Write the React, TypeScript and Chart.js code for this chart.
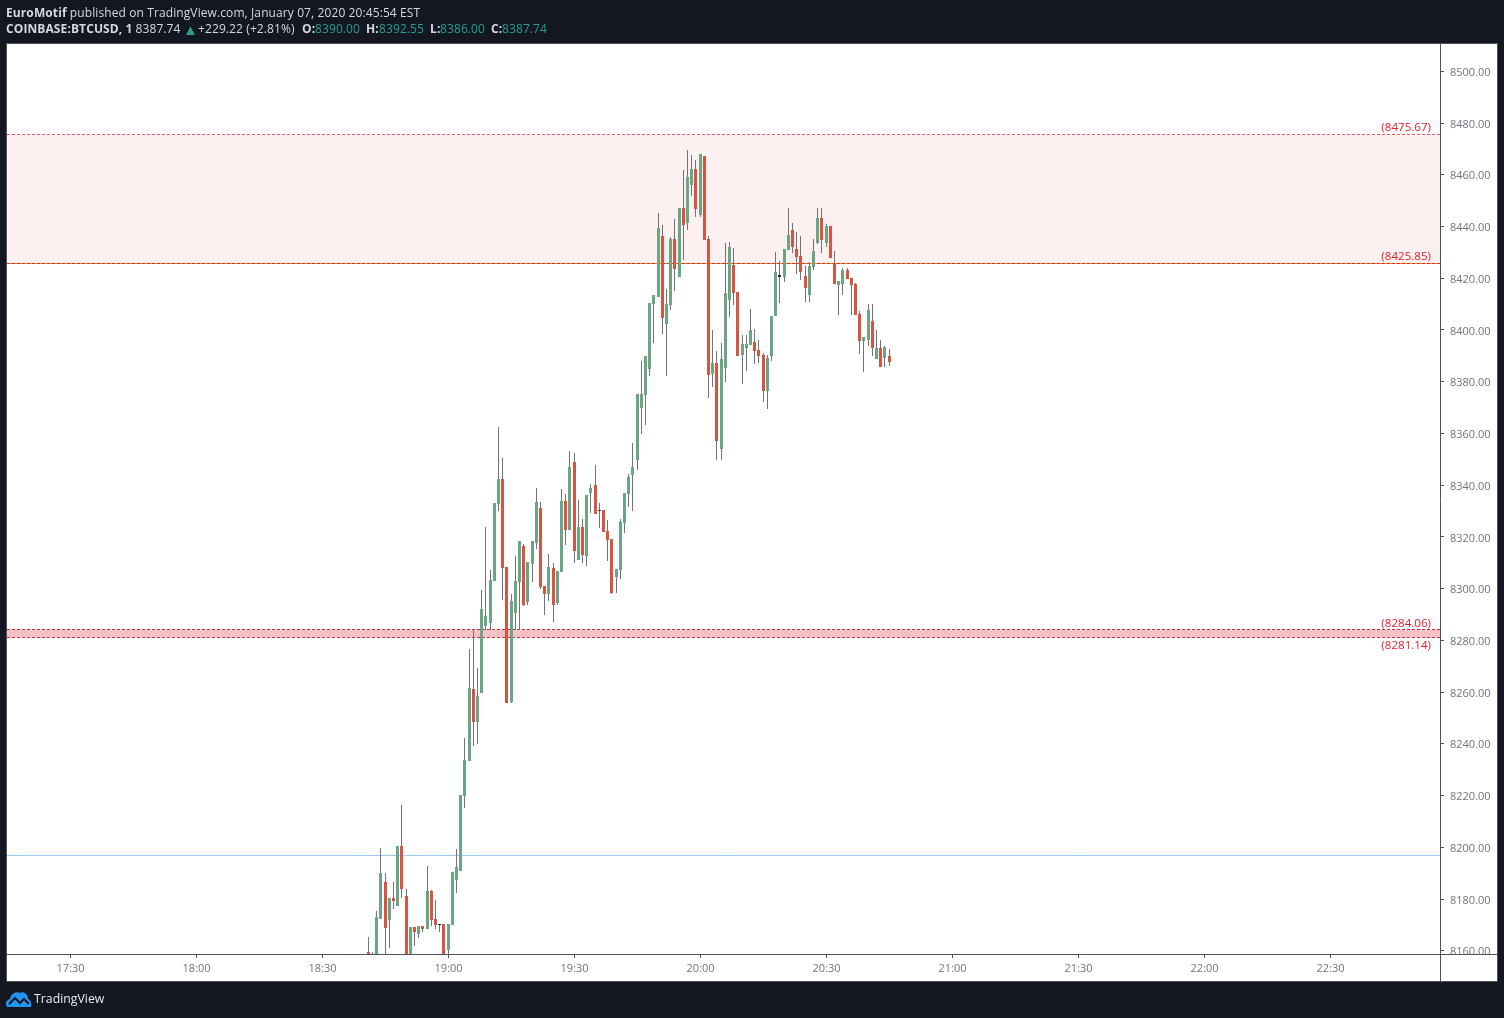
import React, { useEffect, useRef } from "react";
import { Chart, registerables } from "chart.js";

Chart.register(...registerables);

// minutes relative to 19:00 of the first candle; one candle per minute
const firstMinute = -19;

const opens = [
  8159.5, 8150, 8150, 8172.3, 8186.6, 8171.9, 8180.4, 8177.3, 8200.5, 8181.2,
  8152, 8169.2, 8166.5, 8169.6, 8168.4, 8183.1, 8172.3, 8170.4, 8170.3, 8160.3,
  8170.0, 8187.4, 8190.8, 8219.8, 8233.4, 8261.2, 8248.4, 8259.6, 8285.5, 8286.7,
  8302.9, 8332.7, 8342.4, 8308.4, 8256.2, 8290.6, 8302.6, 8316.5, 8294.8, 8309.5,
  8317.6, 8331.2, 8301.0, 8297.9, 8308.0, 8294.4, 8306.4, 8333.9, 8322.7, 8348.9,
  8311.1, 8323.8, 8312.6, 8337.0, 8340.1, 8330.0, 8330.4, 8322.3, 8319.2, 8304.5,
  8307.2, 8325.4, 8336.6, 8343.9, 8349.7, 8369.8, 8374.8, 8384.9, 8410.0, 8412.7,
  8436.3, 8402.3, 8409.6, 8435.2, 8420.5, 8447.1, 8441.3, 8456.0, 8462.2, 8444.4,
  8467.2, 8435.2, 8383.0, 8387.2, 8354.0, 8385.3, 8411.6, 8425.1, 8414.7, 8390.3,
  8393.0, 8394.2, 8395.3, 8392.2, 8390.3, 8376.4, 8389.9, 8405.4, 8421.3, 8420.5,
  8430.9, 8438.6, 8431.3, 8428.6, 8420.9, 8413.5, 8424.3, 8433.6, 8443.3, 8433.6,
  8440.2, 8425.9, 8417.4, 8417.8, 8423.2, 8420.1, 8417.8, 8406.2, 8395.7, 8396.1,
  8403.5, 8388.8, 8393.0, 8389.2, 8390.0,
];
const highs = [
  8165.3, 8159.5, 8175.4, 8199.7, 8190.1, 8180.4, 8186.6, 8200.5, 8216.4, 8183.9,
  8169.2, 8169.2, 8169.6, 8169.6, 8192.8, 8183.5, 8179.6, 8170.4, 8170.3, 8170.3,
  8190.4, 8199.3, 8220.2, 8242.3, 8276.7, 8284.4, 8269.3, 8299.5, 8323.8, 8307.2,
  8333.1, 8362.5, 8350.5, 8308.4, 8297.9, 8312.6, 8318.4, 8317.3, 8310.3, 8318.4,
  8338.9, 8333.5, 8301.0, 8313.4, 8309.9, 8306.8, 8338.5, 8336.6, 8353.2, 8352.4,
  8334.3, 8326.9, 8336.2, 8340.4, 8347.8, 8333.1, 8330.4, 8326.5, 8319.2, 8307.6,
  8326.9, 8337.0, 8344.3, 8356.3, 8375.2, 8388.0, 8389.9, 8410.4, 8413.5, 8445.2,
  8440.6, 8415.8, 8435.9, 8442.9, 8447.1, 8461.8, 8469.6, 8467.6, 8465.7, 8468.0,
  8467.2, 8436.3, 8400.0, 8391.9, 8395.0, 8433.6, 8434.0, 8431.7, 8414.7, 8398.0,
  8398.0, 8408.1, 8400.4, 8396.1, 8391.1, 8390.3, 8405.4, 8430.1, 8426.7, 8431.3,
  8447.1, 8441.3, 8437.9, 8436.3, 8424.7, 8426.3, 8435.2, 8447.1, 8447.1, 8441.0,
  8440.2, 8430.5, 8418.9, 8424.0, 8424.0, 8420.1, 8418.2, 8407.3, 8397.3, 8410.0,
  8410.0, 8400.0, 8396.1, 8393.8, 8392.55,
];
const lows = [
  8152, 8148, 8148, 8172.3, 8155, 8161.0, 8176.1, 8177.3, 8180.4, 8148,
  8150, 8161.8, 8164.9, 8167.2, 8168.4, 8169.6, 8168.4, 8167.2, 8150, 8157,
  8170.0, 8182.3, 8190.8, 8215.2, 8233.4, 8239.2, 8239.9, 8259.6, 8284.0, 8284.0,
  8302.9, 8330.0, 8295.6, 8255.8, 8255.8, 8284.0, 8284.0, 8293.3, 8293.7, 8302.6,
  8315.3, 8299.9, 8289.8, 8295.2, 8287.1, 8293.7, 8306.4, 8316.9, 8322.7, 8309.9,
  8311.1, 8309.9, 8308.7, 8329.2, 8328.8, 8323.4, 8321.9, 8310.7, 8297.9, 8298.3,
  8303.7, 8321.5, 8331.6, 8330.0, 8345.9, 8359.8, 8363.3, 8382.2, 8395.0, 8412.7,
  8398.4, 8382.2, 8407.7, 8415.1, 8420.5, 8427.0, 8438.6, 8451.8, 8443.7, 8443.7,
  8434.8, 8373.7, 8377.9, 8349.7, 8349.7, 8379.9, 8405.0, 8409.6, 8389.9, 8379.1,
  8384.1, 8394.2, 8386.8, 8387.2, 8372.1, 8369.4, 8388.0, 8405.4, 8410.4, 8418.5,
  8430.9, 8429.7, 8421.6, 8419.3, 8410.8, 8410.8, 8423.2, 8433.2, 8429.7, 8432.1,
  8427.8, 8417.8, 8405.8, 8413.5, 8419.7, 8405.8, 8405.8, 8390.7, 8383.7, 8393.8,
  8389.9, 8388.8, 8385.7, 8385.7, 8386.0,
];
const closes = [
  8155, 8155, 8173.1, 8190.1, 8168.8, 8180.4, 8179.2, 8200.5, 8183.9, 8150,
  8169.2, 8167.2, 8169.6, 8168.4, 8183.1, 8171.9, 8170.0, 8170.2, 8150, 8170.3,
  8190.4, 8192.4, 8220.2, 8233.7, 8261.6, 8248.4, 8258.5, 8292.1, 8289.4, 8303.3,
  8333.1, 8342.4, 8308.0, 8255.8, 8295.2, 8302.9, 8318.4, 8293.7, 8310.3, 8318.4,
  8333.5, 8300.6, 8297.9, 8308.4, 8293.7, 8306.8, 8333.9, 8322.7, 8347.0, 8314.5,
  8323.8, 8313.0, 8336.2, 8338.9, 8328.8, 8330.4, 8321.9, 8318.8, 8298.3, 8307.6,
  8325.8, 8337.0, 8343.2, 8347.0, 8375.2, 8375.2, 8389.9, 8410.4, 8413.5, 8439.4,
  8404.6, 8410.0, 8435.2, 8423.6, 8447.1, 8440.6, 8459.1, 8462.2, 8446.7, 8468.0,
  8434.8, 8382.6, 8387.2, 8357.1, 8388.8, 8414.3, 8432.1, 8414.3, 8389.9, 8394.6,
  8394.6, 8400.0, 8391.9, 8389.9, 8376.4, 8389.2, 8405.4, 8422.4, 8420.5, 8431.3,
  8436.7, 8432.1, 8428.2, 8422.4, 8416.2, 8424.7, 8430.5, 8443.3, 8434.8, 8440.2,
  8427.8, 8417.8, 8418.9, 8423.2, 8419.7, 8417.4, 8405.8, 8395.7, 8397.3, 8407.7,
  8393.0, 8393.0, 8385.7, 8393.4, 8387.74,
];

const yTickValues = [
  8160, 8180, 8200, 8220, 8240, 8260, 8280, 8300, 8320, 8340, 8360, 8380, 8400,
  8420, 8440, 8460, 8480, 8500,
];
const xTickValues = [-90, -60, -30, 0, 30, 60, 90, 120, 150, 180, 210];
const xTickLabels = ["17:30", "18:00", "18:30", "19:00", "19:30", "20:00", "20:30", "21:00", "21:30", "22:00", "22:30"];

const priceLevels = [8475.67, 8425.85, 8284.06, 8281.14];
const levelLabels = ["(8475.67)", "(8425.85)", "(8284.06)", "(8281.14)"];
const horizontalLevel = 8196.9;

const xMin = -105.02;
const xMax = 236.17;
const yMin = 8158.75;
const yMax = 8510.55;

const GREEN = "#6ba583";
const RED = "#d75442";
const WICK = "#737375";
const AXIS = "#50535e";
const TICK_TEXT = "#6f737b";
const FONT = "'Open Sans', sans-serif";

const minutes = opens.map((_, i) => firstMinute + i);
const span = (y: number) => [
  { x: xMin, y },
  { x: xMax, y },
];

const snapMarks = {
  id: "snapMarks",
  afterDatasetsUpdate(chart: any) {
    chart.data.datasets.forEach((ds: any, i: number) => {
      const meta = chart.getDatasetMeta(i);
      if (ds.type === "line") {
        meta.data.forEach((pt: any) => {
          pt.y = Math.floor(pt.y) + 0.5;
        });
        return;
      }
      meta.data.forEach((el: any) => {
        el.x = Math.floor(el.x) + 0.5;
        el.y = Math.round(el.y);
        el.base = Math.round(el.base);
        if (el.y === el.base) el.base += 1;
      });
    });
  },
};

const overlay = {
  id: "overlay",
  afterDraw(chart: any) {
    const { ctx, chartArea, scales } = chart;
    const right = chart.width - 7;
    const bottom = chart.height - 37;
    ctx.save();
    // the price-scale labels are cut off by the time scale
    ctx.fillStyle = "#ffffff";
    ctx.fillRect(chartArea.right + 1, chartArea.bottom, right - chartArea.right - 1, bottom - chartArea.bottom);
    ctx.fillStyle = AXIS;
    ctx.fillRect(chartArea.right, chartArea.bottom, right - chartArea.right, 1);
    ctx.fillRect(chartArea.right, chartArea.bottom, 1, bottom - chartArea.bottom);
    // level labels
    ctx.font = `11.6px ${FONT}`;
    ctx.fillStyle = "#e0202f";
    ctx.textAlign = "right";
    ctx.textBaseline = "middle";
    levelLabels.forEach((text, i) => {
      const offset = i === 3 ? 9 : -6;
      ctx.fillText(text, chartArea.right - 9, Math.round(scales.y.getPixelForValue(priceLevels[i])) + offset);
    });
    ctx.restore();
  },
};

const lineTwoBold = [
  { left: 6, text: "COINBASE:BTCUSD, 1" },
  { left: 302, text: "O:" },
  { left: 366, text: "H:" },
  { left: 430, text: "L:" },
  { left: 491, text: "C:" },
];
const lineTwoPlain = [
  { left: 135.5, text: "8387.74" },
  { left: 198, text: "+229.22 (+2.81%)" },
];
const lineTwoTeal = [
  { left: 315, text: "8390.00" },
  { left: 379, text: "8392.55" },
  { left: 440, text: "8386.00" },
  { left: 502, text: "8387.74" },
];

export default function App() {
  const ref = useRef<HTMLCanvasElement>(null);

  useEffect(() => {
    const lineBase = { type: "line", pointRadius: 0, borderWidth: 1, order: 5, fill: false };
    const candleColors = opens.map((o, i) => {
      const c = closes[i];
      if (Math.abs(o - c) < 1) return c > o ? "#1f4a2d" : "#4d1a12";
      return c >= o ? GREEN : RED;
    });
    const chart = new Chart(ref.current as HTMLCanvasElement, {
      type: "bar",
      data: {
        datasets: [
          {
            ...lineBase,
            label: "zone high",
            data: span(priceLevels[0]),
            borderWidth: 0,
            fill: { target: { value: priceLevels[1] }, above: "#fcf0f0", below: "#fcf0f0" },
            order: 9,
          },
          {
            ...lineBase,
            label: "zone low",
            data: span(priceLevels[2]),
            borderWidth: 0,
            fill: { target: { value: priceLevels[3] }, above: "#f6c1c4", below: "#f6c1c4" },
            order: 9,
          },
          { ...lineBase, label: "horizontal", data: span(horizontalLevel), borderColor: "#9ccbf0", order: 8 },
          { ...lineBase, label: "l1", data: span(priceLevels[0]), borderColor: "#ea5a5f", borderDash: [3, 2] },
          { ...lineBase, label: "l2 base", data: span(priceLevels[1]), borderColor: "#f08a12", order: 6 },
          { ...lineBase, label: "l2", data: span(priceLevels[1]), borderColor: "#c8322a", borderDash: [3, 2] },
          { ...lineBase, label: "l3", data: span(priceLevels[2]), borderColor: "#b83240", borderDash: [3, 2] },
          { ...lineBase, label: "l4", data: span(priceLevels[3]), borderColor: "#c8323f", borderDash: [3, 2] },
          {
            type: "bar",
            label: "wicks",
            data: minutes.map((x, i) => ({ x, y: [lows[i], highs[i]] })),
            backgroundColor: WICK,
            barThickness: 1,
            grouped: false,
            inflateAmount: 0,
            order: 3,
          },
          {
            type: "bar",
            label: "bodies",
            data: minutes.map((x, i) => ({ x, y: [opens[i], closes[i]] })),
            backgroundColor: candleColors,
            barThickness: 3,
            grouped: false,
            inflateAmount: 0,
            order: 2,
          },
        ] as any,
      },
      options: {
        responsive: false,
        animation: false,
        events: [],
        layout: { padding: { left: 7, top: 44, right: 7, bottom: 37 } },
        plugins: { legend: { display: false }, tooltip: { enabled: false }, title: { display: false } },
        scales: {
          x: {
            type: "linear",
            min: xMin,
            max: xMax,
            offset: false,
            afterBuildTicks: (s: any) => {
              s.ticks = xTickValues.map((value) => ({ value }));
            },
            afterFit: (s: any) => {
              s.height = 27;
            },
            grid: { drawOnChartArea: false, drawTicks: true, tickLength: 4, color: AXIS, offset: false },
            border: { color: AXIS, width: 1 },
            ticks: {
              autoSkip: false,
              maxRotation: 0,
              padding: 4,
              labelOffset: 0.5,
              color: TICK_TEXT,
              font: { family: FONT, size: 11 },
              callback: (v: any) => xTickLabels[xTickValues.indexOf(Number(v))] ?? "",
            },
          },
          y: {
            type: "linear",
            position: "right",
            min: yMin,
            max: yMax,
            afterBuildTicks: (s: any) => {
              s.ticks = yTickValues.map((value) => ({ value }));
            },
            afterFit: (s: any) => {
              s.width = 57;
            },
            grid: { drawOnChartArea: false, drawTicks: true, tickLength: 4, color: AXIS },
            border: { color: AXIS, width: 1 },
            ticks: {
              autoSkip: false,
              padding: 6,
              labelOffset: 1.5,
              color: TICK_TEXT,
              font: { family: FONT, size: 11 },
              callback: (v: any) => Number(v).toFixed(2),
            },
          },
        },
      } as any,
      plugins: [snapMarks, overlay],
    });
    return () => chart.destroy();
  }, []);

  const teal = "#2a9d8f";
  const light = "#d6d8de";
  const cell = { position: "absolute", top: 20, whiteSpace: "nowrap", lineHeight: "18px", letterSpacing: 0.1 } as const;
  return (
    <div
      style={{
        position: "absolute",
        left: 0,
        top: 0,
        width: 1504,
        height: 1018,
        background: "#131722",
        overflow: "hidden",
        fontFamily: FONT,
        fontSize: 12,
        color: light,
      }}
    >
      <div style={{ position: "absolute", left: 6, top: 43, width: 1490, height: 937, background: "#fff", border: `1px solid ${AXIS}` }} />
      <canvas ref={ref} width={1504} height={1018} style={{ position: "absolute", left: 0, top: 0, width: 1504, height: 1018 }} />
      <div style={{ position: "absolute", left: 6, top: 4, whiteSpace: "nowrap", lineHeight: "18px", letterSpacing: 0.1 }}>
        <b>EuroMotif</b> published on TradingView.com, January 07, 2020 20:45:54 EST
      </div>
      {lineTwoBold.map((c) => (
        <b key={c.left} style={{ ...cell, left: c.left }}>
          {c.text}
        </b>
      ))}
      {lineTwoPlain.map((c) => (
        <span key={c.left} style={{ ...cell, left: c.left }}>
          {c.text}
        </span>
      ))}
      <span style={{ ...cell, left: 183, color: teal, fontSize: 15 }}>▲</span>
      {lineTwoTeal.map((c) => (
        <span key={c.left} style={{ ...cell, left: c.left, color: teal }}>
          {c.text}
        </span>
      ))}
      <svg style={{ position: "absolute", left: 6, top: 991 }} width="26" height="17" viewBox="0 0 26 17">
        <path d="M1 16 C-1 13 0 9 4 8 C5 3 10 0 14 2 C17 0 22 3 22 8 C25 9 26 13 25 16 Z" fill="#2196f3" />
        <path d="M3 13 L9 7 L14 12 L18 8 L23 13" fill="none" stroke="#131722" strokeWidth="2" />
      </svg>
      <div style={{ position: "absolute", left: 34, top: 990, fontSize: 12.3, lineHeight: "18px", color: "#e8eaf0" }}>TradingView</div>
    </div>
  );
}
